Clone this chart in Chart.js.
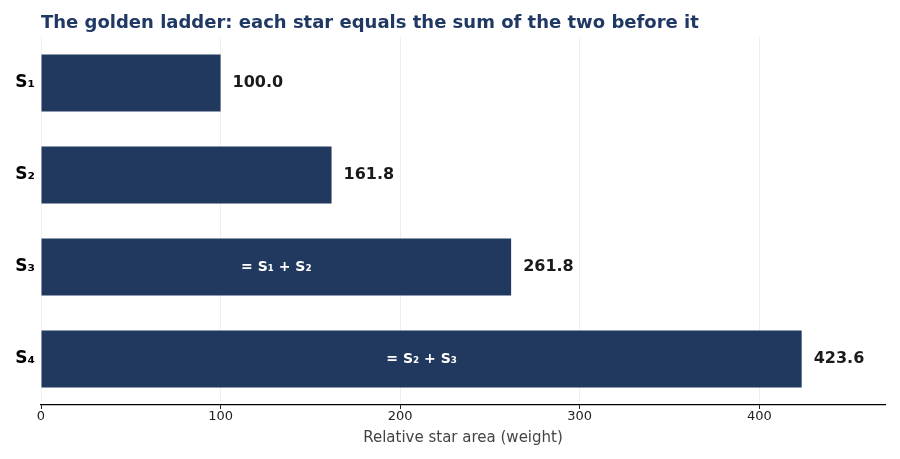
<!DOCTYPE html>
<html>
<head>
<meta charset="utf-8">
<script src="https://cdn.jsdelivr.net/npm/chart.js@4.4.1/dist/chart.umd.min.js"></script>
<style>
html,body{margin:0;padding:0;background:#fff;}
#wrap{width:900px;height:459px;}
</style>
</head>
<body>
<div id="wrap"><canvas id="chart" width="900" height="459"></canvas></div>
<script>
// data
const stars=["S₁","S₂","S₃","S₄"];
const weights=[100.0,161.8,261.8,423.6];
const sumNotes=["","","= S₁ + S₂","= S₂ + S₃"];
const xTicks=[0,100,200,300,400];
const titleText="The golden ladder: each star equals the sum of the two before it";

const navy="#21385f";
const font="'DejaVu Sans', sans-serif";

// labels on and inside bars, plus title
const labelPlugin={
id:"labels",
afterDatasetsDraw(c){
const ctx=c.ctx;
const meta=c.getDatasetMeta(0);
ctx.save();
meta.data.forEach((bar,i)=>{
ctx.textBaseline="middle";
ctx.font="bold 16px "+font;
ctx.fillStyle="#1a1a1a";
ctx.textAlign="left";
ctx.fillText(weights[i].toFixed(1),bar.x+12,bar.y);
if(sumNotes[i]){
ctx.font="bold 14px "+font;
ctx.fillStyle="#fff";
ctx.textAlign="center";
ctx.fillText(sumNotes[i],(bar.base+bar.x)/2,bar.y);
}
});
ctx.font="bold 18px "+font;
ctx.fillStyle="#1f3864";
ctx.textAlign="left";
ctx.textBaseline="middle";
ctx.fillText(titleText,c.chartArea.left,23);
ctx.restore();
}
};

new Chart(document.getElementById("chart"),{
type:"bar",
data:{
labels:stars,
datasets:[{data:weights,backgroundColor:navy,borderWidth:0,categoryPercentage:1,barPercentage:0.62}]
},
options:{
indexAxis:"y",
responsive:false,
animation:false,
layout:{padding:{top:37,right:15,left:0,bottom:12}},
plugins:{legend:{display:false},tooltip:{enabled:false},title:{display:false}},
scales:{
x:{
min:0,max:470,
afterBuildTicks(s){s.ticks=xTicks.map(v=>({value:v}));},
ticks:{color:"#222",font:{family:font,size:13},padding:0},
grid:{color:"#efefef",drawTicks:true,tickLength:4,tickColor:"#222"},
border:{display:true,color:"#000",width:1.2},
title:{display:true,text:"Relative star area (weight)",color:"#444",font:{family:font,size:15},padding:{top:2,bottom:0}},
afterFit(s){s.height=42;}
},
y:{
ticks:{color:"#000",font:{family:font,size:17,weight:"bold"},padding:6},
grid:{display:false,drawTicks:false,tickLength:0},
border:{display:false},
afterFit(s){s.width=41;}
}
}
},
plugins:[labelPlugin]
});
</script>
</body>
</html>
